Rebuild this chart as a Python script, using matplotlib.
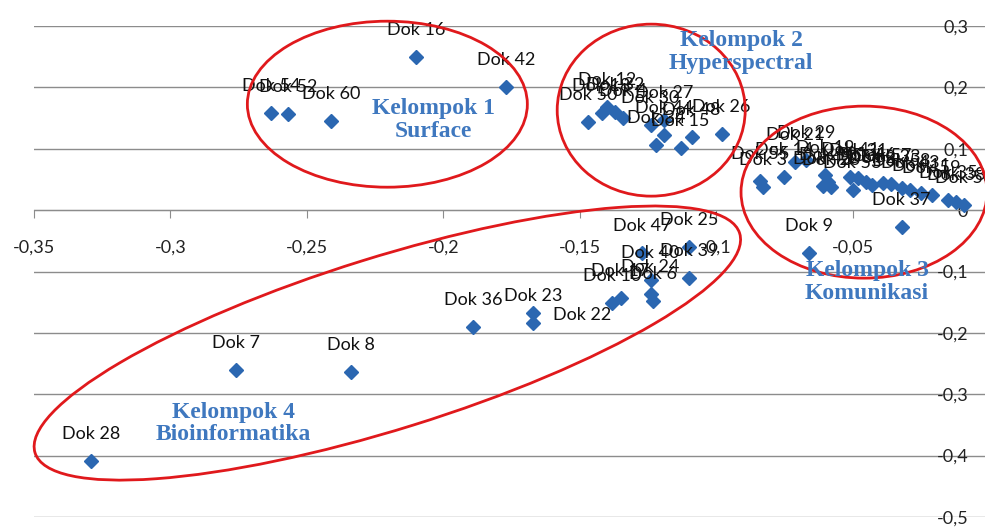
import numpy as np
import matplotlib
matplotlib.use("Agg")
import matplotlib.pyplot as plt
from matplotlib.patches import Ellipse
from matplotlib.transforms import IdentityTransform, ScaledTranslation
from matplotlib.ticker import FuncFormatter

plt.rcParams['font.family'] = ['Lato', 'DejaVu Sans']

# document coordinates
names = ['Dok 16', 'Dok 42', 'Dok 54', 'Dok 52', 'Dok 60',
         'Dok 50', 'Dok 18', 'Dok 12', 'Dok 32', 'Dok 4', 'Dok 27', 'Dok 30',
         'Dok 44', 'Dok 34', 'Dok 15', 'Dok 48', 'Dok 26',
         'Dok 55', 'Dok 3', 'Dok 14', 'Dok 21', 'Dok 29', 'Dok 19', 'Dok 13',
         'Dok 45', 'Dok 20', 'Dok 41', 'Dok 53', 'Dok 31', 'Dok 46', 'Dok 2',
         'Dok 57', 'Dok 33', 'Dok 58', 'Dok 43', 'Dok 11', 'Dok 59', 'Dok 35',
         'Dok 38', 'Dok 56', 'Dok 37', 'Dok 9',
         'Dok 47', 'Dok 25', 'Dok 39', 'Dok 40', 'Dok 24', 'Dok 6', 'Dok 17',
         'Dok 10', 'Dok 22', 'Dok 23', 'Dok 36', 'Dok 8', 'Dok 7', 'Dok 28']
xs = [-0.210, -0.177, -0.263, -0.257, -0.241,
      -0.147, -0.142, -0.140, -0.137, -0.134, -0.119, -0.124,
      -0.119, -0.122, -0.113, -0.109, -0.098,
      -0.084, -0.083, -0.075, -0.071, -0.067, -0.060, -0.059,
      -0.061, -0.058, -0.051, -0.050, -0.048, -0.045, -0.043,
      -0.039, -0.036, -0.032, -0.029, -0.025, -0.021, -0.015,
      -0.012, -0.009, -0.032, -0.066,
      -0.127, -0.110, -0.110, -0.124, -0.124, -0.123, -0.135,
      -0.138, -0.167, -0.167, -0.189, -0.234, -0.276, -0.329]
ys = [0.249, 0.200, 0.158, 0.156, 0.145,
      0.143, 0.158, 0.168, 0.160, 0.150, 0.147, 0.138,
      0.122, 0.106, 0.101, 0.119, 0.124,
      0.047, 0.038, 0.054, 0.078, 0.081, 0.057, 0.046,
      0.039, 0.038, 0.054, 0.033, 0.052, 0.046, 0.041,
      0.044, 0.042, 0.036, 0.033, 0.028, 0.024, 0.016,
      0.013, 0.008, -0.028, -0.070,
      -0.070, -0.060, -0.111, -0.114, -0.137, -0.148, -0.143,
      -0.152, -0.168, -0.184, -0.191, -0.264, -0.261, -0.409]

# cluster ellipses: centre (data), semi axes (px), angle (deg)
groups = ['Kelompok 1\nSurface', 'Kelompok 2\nHyperspectral',
          'Kelompok 3\nKomunikasi', 'Kelompok 4\nBioinformatika']
group_text_xy = [(-0.2037, 0.1474), (-0.0908, 0.2581), (-0.0447, -0.1164), (-0.2769, -0.3477)]
ell_xy = [(-0.2205, 0.1726), (-0.1238, 0.1629), (-0.0458, 0.0293), (-0.2205, -0.2166)]
ell_ab = [(140, 83), (94, 86), (123, 86), (369, 86)]
ell_ang = [0, 0, 0, 17.3]

label_shift = {'Dok 22': (49, -2)}

fig = plt.figure(figsize=(9.85, 5.27), dpi=100)
ax = fig.add_axes([34 / 985, 10 / 527, 955 / 985, 491 / 527])
ax.set_xlim(-0.35, 0)
ax.set_ylim(-0.5, 0.3)

grid_col = '#8c8c8c'
ax.set_yticks(np.arange(-0.5, 0.31, 0.1))
ax.set_xticks(np.arange(-0.35, -0.04, 0.05))
ax.grid(axis='y', color=grid_col, lw=1)
ax.set_axisbelow(True)
for s in ['top', 'right']:
    ax.spines[s].set_visible(False)
ax.spines['bottom'].set_position(('data', 0))
ax.spines['left'].set_position(('data', 0))
ax.spines['bottom'].set_color(grid_col)
ax.spines['left'].set_color(grid_col)


def comma(v, pos):
    s = f"{v:.2f}".rstrip('0').rstrip('.')
    if s in ('-0', '-0.'):
        s = '0'
    return s.replace('.', ',')


ax.xaxis.set_major_formatter(FuncFormatter(comma))
ax.yaxis.set_major_formatter(FuncFormatter(comma))
ax.tick_params(axis='x', direction='out', length=6, color=grid_col, pad=15,
               labelsize=13, labelcolor='#222222')
ax.tick_params(axis='y', length=0, pad=15, labelsize=13, labelcolor='#222222')

ax.plot(xs, ys, 'D', color='#2b67b1', markersize=7, zorder=3, clip_on=False)
for n, x, y in zip(names, xs, ys):
    dx, dy = label_shift.get(n, (0, 27))
    ax.annotate(n, (x, y), xytext=(dx, dy), textcoords='offset pixels',
                ha='center', va='center', fontsize=13, color='#111111', zorder=4)

for (cx, cy), (a, b), ang in zip(ell_xy, ell_ab, ell_ang):
    tr = IdentityTransform() + ScaledTranslation(cx, cy, ax.transData)
    e = Ellipse((0, 0), 2 * a, 2 * b, angle=ang, transform=tr, fill=False,
                edgecolor='#e0191c', lw=2, zorder=5, clip_on=False)
    ax.add_patch(e)

for g, (tx, ty) in zip(groups, group_text_xy):
    ax.text(tx, ty, g, ha='center', va='center', multialignment='center',
            family='Liberation Serif', weight='bold', fontsize=17,
            color='#3f78bf', linespacing=1.12, zorder=6)

fig.savefig('out.png', dpi=100)
